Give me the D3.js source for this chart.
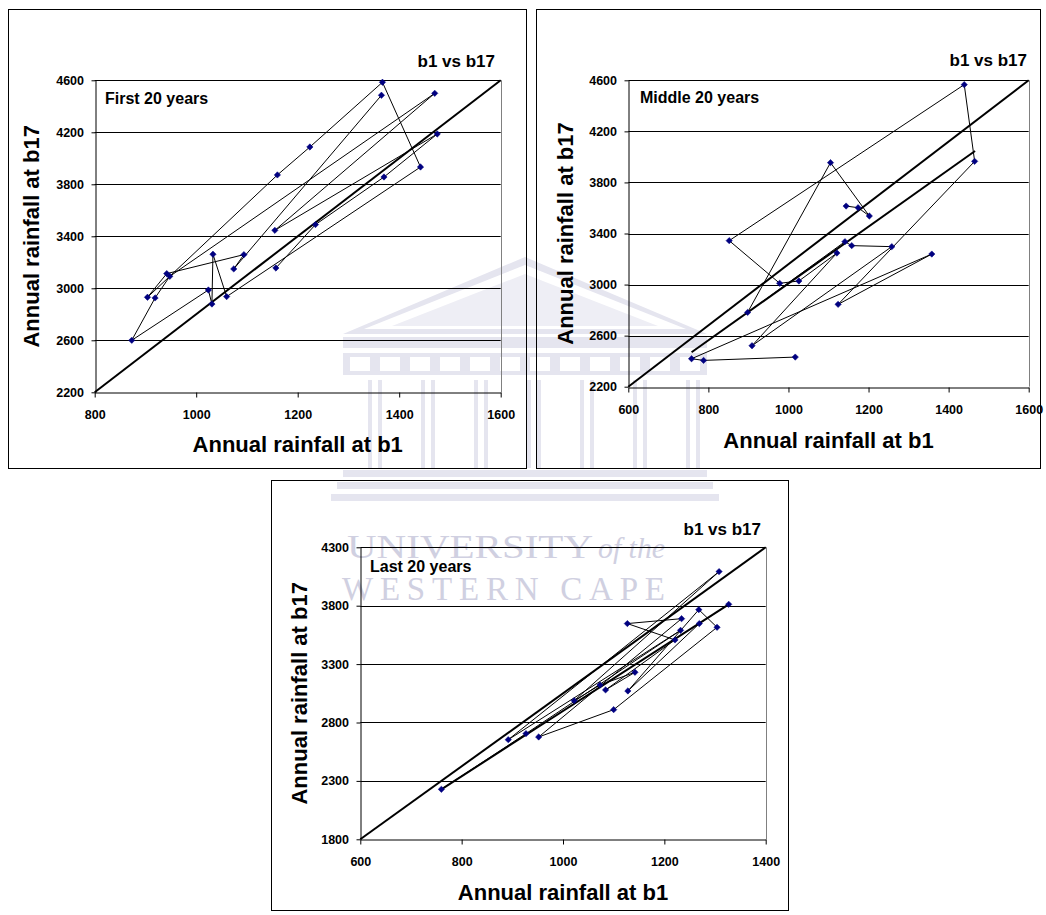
<!DOCTYPE html>
<html>
<head>
<meta charset="utf-8">
<script src="https://cdn.jsdelivr.net/npm/d3@7"></script>
<style>
  html, body { margin: 0; padding: 0; background: #ffffff; }
  svg { display: block; }
  text { font-family: "Liberation Sans", Arial, Helvetica, sans-serif; }
</style>
</head>
<body>
<svg id="chart" width="1046" height="915"></svg>
<script>
// ---- Annual rainfall, station b1 (x) against station b17 (y), in year order ----

// First 20 years
const firstB1  = [1157, 1235, 1370, 1475, 1155, 1470, 948, 919, 873, 1024, 1031, 1033, 1060, 1442, 1367, 1224, 1160, 904, 942, 1094, 1074, 1365];
const firstB17 = [3156, 3490, 3856, 4187, 3446, 4500, 3092, 2926, 2600, 2987, 2879, 3262, 2936, 3933, 4585, 4087, 3872, 2931, 3113, 3259, 3149, 4485];

// Middle 20 years
const middleB1  = [1017, 788, 758, 1358, 1124, 1465, 1439, 852, 978, 1026, 1121, 909, 1258, 1158, 1141, 898, 1105, 1202, 1174, 1144];
const middleB17 = [2432, 2406, 2419, 3239, 2845, 3965, 4566, 3344, 3010, 3028, 3247, 2521, 3297, 3305, 3336, 2782, 3955, 3537, 3602, 3615];

// Last 20 years
const lastB1  = [760, 927, 1232, 892, 1308, 1022, 1073, 1142, 1084, 1221, 1127, 1234, 952, 1100, 1304, 1268, 1128, 1269, 1327];
const lastB17 = [2228, 2705, 3589, 2653, 4092, 2987, 3121, 3230, 3079, 3507, 3647, 3689, 2676, 2910, 3615, 3766, 3070, 3647, 3812];

// Linear trend lines (end points)
const middleTrendB1  = [758, 1466];
const middleTrendB17 = [2470, 4046];
const lastTrendB1    = [760, 1327];
const lastTrendB17   = [2228, 3812];

// Axis ticks
const firstXTicks  = [800, 1000, 1200, 1400, 1600];
const firstYTicks  = [2200, 2600, 3000, 3400, 3800, 4200, 4600];
const middleXTicks = [600, 800, 1000, 1200, 1400, 1600];
const middleYTicks = [2200, 2600, 3000, 3400, 3800, 4200, 4600];
const lastXTicks   = [600, 800, 1000, 1200, 1400];
const lastYTicks   = [1800, 2300, 2800, 3300, 3800, 4300];

const svg = d3.select("#chart");

// ---- faint university crest in the background ----
function drawCrest() {
  const fill = "#e5e5ef";
  const w = svg.append("g").attr("class", "crest");
  // pediment
  w.append("polygon").attr("points", "343,334 525,257 707,334").attr("fill", fill);
  w.append("polygon").attr("points", "364,329 525,265 686,329").attr("fill", "#ffffff");
  w.append("polygon").attr("points", "392,326 525,274 658,326").attr("fill", "#eeeef5");
  // entablature
  w.append("rect").attr("x", 343).attr("y", 337).attr("width", 364).attr("height", 11).attr("fill", fill);
  w.append("rect").attr("x", 343).attr("y", 353).attr("width", 364).attr("height", 22).attr("fill", fill);
  d3.range(350, 700, 30).forEach(x0 => {
    w.append("rect").attr("x", x0).attr("y", 357).attr("width", 20).attr("height", 14).attr("fill", "#ffffff");
  });
  // columns
  d3.range(368, 700, 53).forEach(x0 => {
    w.append("rect").attr("x", x0).attr("y", 380).attr("width", 4).attr("height", 88).attr("fill", fill);
    w.append("rect").attr("x", x0 + 10).attr("y", 380).attr("width", 4).attr("height", 88).attr("fill", fill);
  });
  // steps
  w.append("rect").attr("x", 343).attr("y", 470).attr("width", 364).attr("height", 7).attr("fill", fill);
  w.append("rect").attr("x", 337).attr("y", 482).attr("width", 376).attr("height", 7).attr("fill", fill);
  w.append("rect").attr("x", 331).attr("y", 494).attr("width", 388).attr("height", 7).attr("fill", fill);
  // lettering
  const serif = "'Liberation Serif', 'DejaVu Serif', serif";
  w.append("text").attr("x", 347).attr("y", 558).attr("textLength", 246)
    .attr("lengthAdjust", "spacingAndGlyphs")
    .style("font-family", serif).style("font-size", "33px").attr("fill", "#d0d0e1")
    .text("UNIVERSITY");
  w.append("text").attr("x", 598).attr("y", 558).attr("textLength", 67)
    .attr("lengthAdjust", "spacingAndGlyphs")
    .style("font-family", serif).style("font-style", "italic").style("font-size", "30px").attr("fill", "#d0d0e1")
    .text("of the");
  w.append("text").attr("x", 342).attr("y", 600).attr("textLength", 323)
    .attr("lengthAdjust", "spacing")
    .style("font-family", serif).style("font-size", "33px").attr("fill", "#d0d0e1")
    .text("WESTERN CAPE");
}
drawCrest();

// ---- one scatter panel ----
function drawPanel(p) {
  const g = svg.append("g");
  const pl = p.plot;

  // chart area frame
  g.append("rect")
    .attr("x", p.box[0] + 0.5).attr("y", p.box[1] + 0.5)
    .attr("width", p.box[2] - p.box[0]).attr("height", p.box[3] - p.box[1])
    .attr("fill", "none").attr("stroke", "#000").attr("stroke-width", 1);

  const x = d3.scaleLinear().domain(p.xDomain).range([pl.left, pl.right]);
  const y = d3.scaleLinear().domain(p.yDomain).range([pl.bottom, pl.top]);

  // horizontal gridlines
  g.append("g").selectAll("line").data(p.yTicks.slice(1)).join("line")
    .attr("x1", pl.left).attr("x2", pl.right)
    .attr("y1", d => Math.round(y(d)) + 0.5).attr("y2", d => Math.round(y(d)) + 0.5)
    .attr("stroke", "#000").attr("stroke-width", 1);

  // plot area right edge
  g.append("line")
    .attr("x1", Math.round(pl.right) + 0.5).attr("x2", Math.round(pl.right) + 0.5)
    .attr("y1", pl.top).attr("y2", pl.bottom)
    .attr("stroke", "#808080").attr("stroke-width", 1);

  // axes
  const fmt = d3.format("d");
  const xAxis = g.append("g")
    .attr("transform", `translate(0,${Math.round(pl.bottom) + 0.5})`)
    .call(d3.axisBottom(x).tickValues(p.xTicks).tickFormat(fmt).tickSize(5).tickSizeOuter(0).tickPadding(12.5));
  const yAxis = g.append("g")
    .attr("transform", `translate(${Math.round(pl.left) + 0.5},0)`)
    .call(d3.axisLeft(y).tickValues(p.yTicks).tickFormat(fmt).tickSize(4).tickSizeOuter(0).tickPadding(7.5));
  [xAxis, yAxis].forEach(a => {
    a.select(".domain").attr("stroke", "#000").attr("stroke-width", 1);
    a.selectAll(".tick line").attr("stroke", "#000");
    a.selectAll(".tick text")
      .attr("fill", "#000")
      .style("font-family", "'Liberation Sans', Arial, sans-serif")
      .style("font-size", "12.5px").style("font-weight", "bold");
  });

  // reference diagonal across the plot area
  g.append("line")
    .attr("x1", x(p.xDomain[0])).attr("y1", y(p.yDomain[0]))
    .attr("x2", x(p.xDomain[1])).attr("y2", y(p.yDomain[1]))
    .attr("stroke", "#000").attr("stroke-width", 2);

  // linear trend
  if (p.trendB1) {
    g.append("line")
      .attr("x1", x(p.trendB1[0])).attr("y1", y(p.trendB17[0]))
      .attr("x2", x(p.trendB1[1])).attr("y2", y(p.trendB17[1]))
      .attr("stroke", "#000").attr("stroke-width", 2);
  }

  // year-to-year path
  const idx = d3.range(p.b1.length);
  const line = d3.line().x(i => x(p.b1[i])).y(i => y(p.b17[i]));
  g.append("path").datum(idx)
    .attr("d", line)
    .attr("fill", "none").attr("stroke", "#000").attr("stroke-width", 1)
    .attr("stroke-linejoin", "round");

  // markers
  const diamond = d3.symbol().type(d3.symbolSquare).size(20);
  g.append("g").selectAll("path").data(idx).join("path")
    .attr("d", diamond)
    .attr("transform", i => `translate(${x(p.b1[i])},${y(p.b17[i])}) rotate(45)`)
    .attr("fill", "#000080").attr("stroke", "#000080").attr("stroke-width", 0.5);

  // titles
  g.append("text")
    .attr("x", p.tag[0]).attr("y", p.tag[1]).attr("text-anchor", "end")
    .style("font-size", "17px").style("font-weight", "bold").attr("fill", "#000")
    .text("b1 vs b17");
  g.append("text")
    .attr("x", p.period[0]).attr("y", p.period[1])
    .style("font-size", "16px").style("font-weight", "bold").attr("fill", "#000")
    .text(p.periodLabel);
  g.append("text")
    .attr("x", (pl.left + pl.right) / 2).attr("y", p.xTitleY).attr("text-anchor", "middle")
    .style("font-size", "22px").style("font-weight", "bold").attr("fill", "#000")
    .text("Annual rainfall at b1");
  g.append("text")
    .attr("transform", `translate(${p.yTitleX},${(pl.top + pl.bottom) / 2}) rotate(-90)`)
    .attr("text-anchor", "middle")
    .style("font-size", "22px").style("font-weight", "bold").attr("fill", "#000")
    .text("Annual rainfall at b17");
}

drawPanel({
  box: [8, 9, 526, 468],
  plot: { left: 94.7, right: 500.7, top: 80.3, bottom: 392.3 },
  xDomain: [800, 1600], yDomain: [2200, 4600],
  xTicks: firstXTicks, yTicks: firstYTicks,
  b1: firstB1, b17: firstB17,
  tag: [495, 67], period: [105, 104], periodLabel: "First 20 years",
  xTitleY: 452, yTitleX: 39
});

drawPanel({
  box: [536, 9, 1040, 468],
  plot: { left: 628.3, right: 1028.7, top: 80.3, bottom: 386.7 },
  xDomain: [600, 1600], yDomain: [2200, 4600],
  xTicks: middleXTicks, yTicks: middleYTicks,
  b1: middleB1, b17: middleB17,
  trendB1: middleTrendB1, trendB17: middleTrendB17,
  tag: [1027, 66], period: [640, 103], periodLabel: "Middle 20 years",
  xTitleY: 448, yTitleX: 573
});

drawPanel({
  box: [271, 480, 788, 910],
  plot: { left: 360.3, right: 765.7, top: 547.3, bottom: 839.3 },
  xDomain: [600, 1400], yDomain: [1800, 4300],
  xTicks: lastXTicks, yTicks: lastYTicks,
  b1: lastB1, b17: lastB17,
  trendB1: lastTrendB1, trendB17: lastTrendB17,
  tag: [761, 535], period: [370, 572], periodLabel: "Last 20 years",
  xTitleY: 900, yTitleX: 307
});
</script>
</body>
</html>
